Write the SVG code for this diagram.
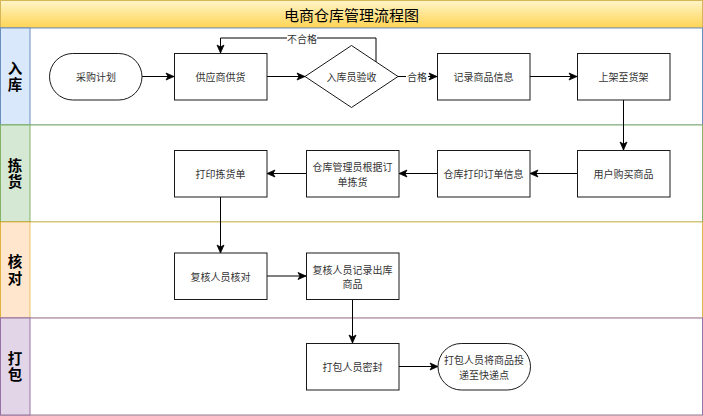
<svg xmlns="http://www.w3.org/2000/svg" width="703" height="416" viewBox="0 0 703 416">
<style>
.node{fill:#fff;stroke:#1a1a1a;stroke-width:1}
.t{font-family:"Noto Sans CJK SC","Noto Sans",sans-serif;font-size:10px;fill:#333;text-anchor:middle;dominant-baseline:central}
.lt{font-family:"Noto Sans CJK SC","Noto Sans",sans-serif;font-size:14.5px;font-weight:bold;fill:#000;text-anchor:middle;writing-mode:vertical-rl;letter-spacing:2px}
.c{fill:none;stroke:#000;stroke-width:1;marker-end:url(#arr)}
.lbl{font-family:"Noto Sans CJK SC","Noto Sans",sans-serif;font-size:10px;fill:#333;text-anchor:middle;dominant-baseline:central}
</style>
<defs>
<linearGradient id="tg" x1="0" y1="0" x2="0" y2="1">
<stop offset="0" stop-color="#fff5c8"/>
<stop offset="1" stop-color="#ffd454"/>
</linearGradient>
<marker id="arr" markerUnits="userSpaceOnUse" markerWidth="10" markerHeight="10" viewBox="0 0 10 10" refX="9" refY="5" orient="auto">
<path d="M1,1.5 L9,5 L1,8.5 L3,5 Z" fill="#000" stroke="#000" stroke-width="0.8"/>
</marker>
</defs>
<g id="pool">
<rect x="0.5" y="0.5" width="702" height="414.5" fill="#fff" stroke="#d6b656"/>
<rect x="0.5" y="0.5" width="702" height="27.5" fill="url(#tg)" stroke="#d6b656"/>
<text x="351.5" y="14.5" font-family="Noto Sans CJK SC,sans-serif" font-size="15" text-anchor="middle" dominant-baseline="central" fill="#000">电商仓库管理流程图</text>
</g>
<g id="lane1">
<rect x="0.5" y="28" width="702" height="97" fill="#fff" stroke="#6c8ebf"/>
<rect x="0.5" y="28" width="29.5" height="97" fill="#dae8fc" stroke="#6c8ebf"/>
<text class="lt" x="15" y="77.5">入库</text>
</g>
<g id="lane2">
<rect x="0.5" y="125" width="702" height="97" fill="#fff" stroke="#82b366"/>
<rect x="0.5" y="125" width="29.5" height="97" fill="#d5e8d4" stroke="#82b366"/>
<text class="lt" x="15" y="174.5">拣货</text>
</g>
<g id="lane3">
<rect x="0.5" y="222" width="702" height="96" fill="#fff" stroke="#d79b00" stroke-opacity="0.55"/>
<rect x="0.5" y="222" width="29.5" height="96" fill="#ffe6cc" stroke="#d79b00" stroke-opacity="0.55"/>
<text class="lt" x="15" y="271">核对</text>
</g>
<g id="lane4">
<rect x="0.5" y="318" width="702" height="97" fill="#fff" stroke="#9673a6"/>
<rect x="0.5" y="318" width="29.5" height="97" fill="#e1d5e7" stroke="#9673a6"/>
<text class="lt" x="15" y="367.5">打包</text>
</g>
<g id="connectors">
<path class="c" d="M142,76.5 H174"/>
<path class="c" d="M267,76.5 H305"/>
<path class="c" d="M398,76.5 H437"/>
<rect x="406" y="70" width="22" height="13" fill="#fff"/>
<text class="lbl" x="417" y="76.5">合格</text>
<path class="c" d="M376,63 V38 H220.5 V53"/>
<rect x="287" y="32" width="30" height="13" fill="#fff"/>
<text class="lbl" x="302" y="38">不合格</text>
<path class="c" d="M530,76.5 H577"/>
<path class="c" d="M623.5,100 V150"/>
<path class="c" d="M577,173.5 H530"/>
<path class="c" d="M437,173.5 H399"/>
<path class="c" d="M306,173.5 H267"/>
<path class="c" d="M220.5,197 V253"/>
<path class="c" d="M267,276 H306"/>
<path class="c" d="M352.5,299 V343"/>
<path class="c" d="M399,366.5 H438"/>
</g>
<g id="n1"><rect class="node" x="49.5" y="53.5" width="92.5" height="46.5" rx="23.25"/><text class="t" x="96" y="76.5">采购计划</text></g>
<g id="n2"><rect class="node" x="174.5" y="53.5" width="92.5" height="46.5"/><text class="t" x="220.5" y="76.5">供应商供货</text></g>
<g id="n3"><path class="node" d="M351.5,45.5 L398,76.5 L351.5,107.5 L305,76.5 Z"/><text class="t" x="351.5" y="76.5">入库员验收</text></g>
<g id="n4"><rect class="node" x="437.5" y="53.5" width="92.5" height="46.5"/><text class="t" x="483.5" y="76.5">记录商品信息</text></g>
<g id="n5"><rect class="node" x="577.5" y="53.5" width="92.5" height="46.5"/><text class="t" x="623.5" y="76.5">上架至货架</text></g>
<g id="n6"><rect class="node" x="577.5" y="150.5" width="92.5" height="46.5"/><text class="t" x="623.5" y="173.5">用户购买商品</text></g>
<g id="n7"><rect class="node" x="437.5" y="150.5" width="92.5" height="46.5"/><text class="t" x="483.5" y="173.5">仓库打印订单信息</text></g>
<g id="n8"><rect class="node" x="306.5" y="150.5" width="92.5" height="46.5"/><text class="t" x="352.5" y="166.5">仓库管理员根据订<tspan x="352.5" dy="14">单拣货</tspan></text></g>
<g id="n9"><rect class="node" x="174.5" y="150.5" width="92.5" height="46.5"/><text class="t" x="220.5" y="173.5">打印拣货单</text></g>
<g id="n10"><rect class="node" x="174.5" y="253" width="92.5" height="46.5"/><text class="t" x="220.5" y="276">复核人员核对</text></g>
<g id="n11"><rect class="node" x="306.5" y="253" width="92.5" height="46.5"/><text class="t" x="352.5" y="269">复核人员记录出库<tspan x="352.5" dy="14">商品</tspan></text></g>
<g id="n12"><rect class="node" x="306.5" y="343.5" width="92.5" height="46.5"/><text class="t" x="352.5" y="366.5">打包人员密封</text></g>
<g id="n13"><rect class="node" x="438" y="343.5" width="92.5" height="46.5" rx="23.25"/><text class="t" x="484" y="359.5">打包人员将商品投<tspan x="484" dy="14">递至快递点</tspan></text></g>
</svg>
